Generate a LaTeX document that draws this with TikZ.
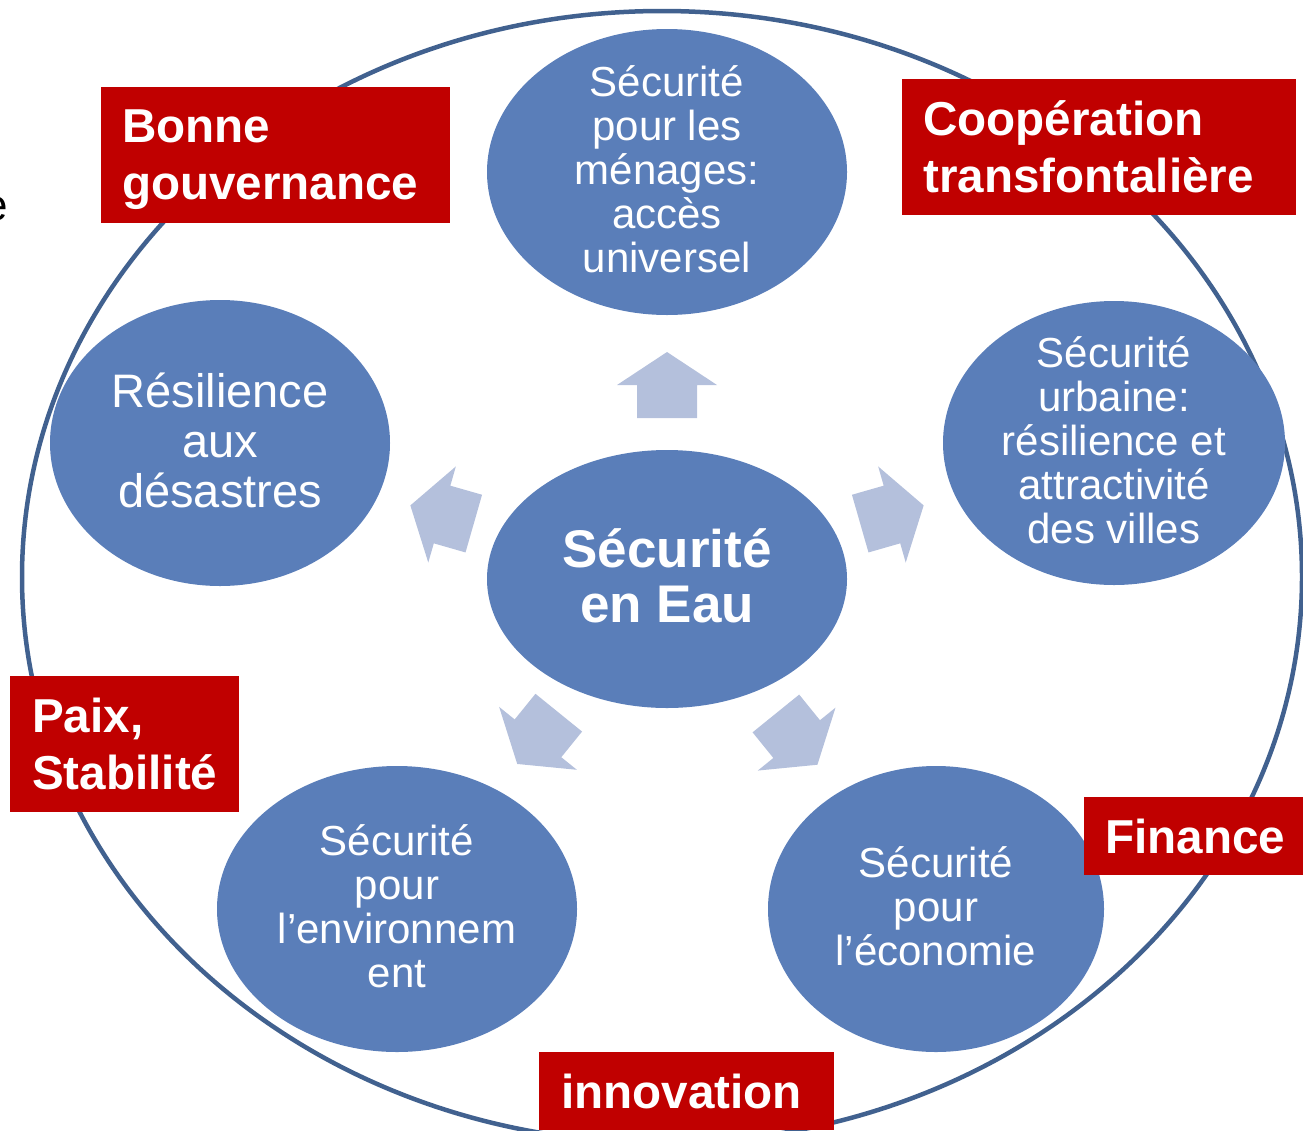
\documentclass[tikz,border=0pt]{standalone}
\usepackage{fontspec}
\setmainfont{Liberation Sans}
\usepackage{tikz}
\usetikzlibrary{shapes.geometric}
\definecolor{ringblue}{HTML}{41618F}
\definecolor{bubblefill}{HTML}{5A7EB9}
\definecolor{flowfill}{HTML}{B4C0DC}
\definecolor{tagred}{HTML}{C00000}
\tikzset{
	ring/.style={draw=ringblue, line width=4.5pt, ellipse, inner sep=0pt},
	bubble/.style={fill=bubblefill, ellipse, inner sep=0pt},
	bubtext/.style={text=white, align=center, inner sep=0pt, yshift=3pt, font=\fontsize{42pt}{44pt}\selectfont},
	tag/.style={fill=tagred, anchor=north west, inner sep=0pt},
	tagtext/.style={text=white, align=left, anchor=west, inner sep=0pt, font=\bfseries\fontsize{47.6pt}{57pt}\selectfont},
	flowarrow/.pic={\fill[flowfill] (-33,-30) -- (0,-30) -- (0,-50) -- (33,0) -- (0,50) -- (0,30) -- (-33,30) -- cycle;}
}

\begin{document}
\begin{tikzpicture}[x=1pt, y=-1pt]
	\useasboundingbox (0,0) rectangle (1303,1130);
	
	\node[font=\fontsize{44pt}{44pt}\selectfont, inner sep=0pt, anchor=base west] (cut) at (-17,220) {e};
	
	\node[ring, minimum width=1280pt, minimum height=1132pt] (frame) at (662,577) {};
	
	\node[bubble, minimum width=360pt, minimum height=258pt] (core) at (667,579) {};
	\node[bubtext, font=\bfseries\fontsize{53pt}{55pt}\selectfont] at (core) {Sécurité\\en Eau};
	
	\node[bubble, minimum width=360pt, minimum height=286pt] (menages) at (667,172) {};
	\node[bubtext] at (menages) {Sécurité\\pour les\\ménages:\\accès\\universel};
	
	\node[bubble, minimum width=342pt, minimum height=284pt] (urbain) at (1114,443) {};
	\node[bubtext] at (urbain) {Sécurité\\urbaine:\\résilience et\\attractivité\\des villes};
	
	\node[bubble, minimum width=340pt, minimum height=286pt] (desastres) at (220,443) {};
	\node[bubtext, font=\fontsize{47pt}{50pt}\selectfont] at (desastres) {Résilience\\aux\\désastres};
	
	\node[bubble, minimum width=360pt, minimum height=286pt] (environ) at (397,909) {};
	\node[bubtext] at (environ) {Sécurité\\pour\\l’environnem\\ent};
	
	\node[bubble, minimum width=336pt, minimum height=286pt] (economie) at (936,909) {};
	\node[bubtext] at (economie) {Sécurité\\pour\\l’économie};
	
	\pic[rotate=90]  at ([shift={(90:194pt)}]core.center)  {flowarrow};
	\pic[rotate=164] at ([shift={(164:234pt)}]core.center) {flowarrow};
	\pic[rotate=16]  at ([shift={(16:234pt)}]core.center)  {flowarrow};
	\pic[rotate=231] at ([shift={(231:205pt)}]core.center) {flowarrow};
	\pic[rotate=-51] at ([shift={(-51:206pt)}]core.center) {flowarrow};
	
	\node[tag, minimum width=349pt, minimum height=136pt] (gouv) at (101,87) {};
	\node[tagtext] at ([xshift=21pt, yshift=-4pt]gouv.west) {Bonne\\gouvernance};
	
	\node[tag, minimum width=394pt, minimum height=136pt] (coop) at (902,79) {};
	\node[tagtext] at ([xshift=21pt]coop.west) {Coopération\\transfontalière};
	
	\node[tag, minimum width=229pt, minimum height=136pt] (paix) at (10,676) {};
	\node[tagtext] at ([xshift=22pt]paix.west) {Paix,\\Stabilité};
	
	\node[tag, minimum width=222pt, minimum height=78pt] (finance) at (1084,797) {};
	\node[tagtext] at ([xshift=21pt]finance.west) {Finance};
	
	\node[tag, minimum width=295pt, minimum height=78pt] (innov) at (539,1052) {};
	\node[tagtext] at ([xshift=22pt]innov.west) {innovation};
\end{tikzpicture}
\end{document}
